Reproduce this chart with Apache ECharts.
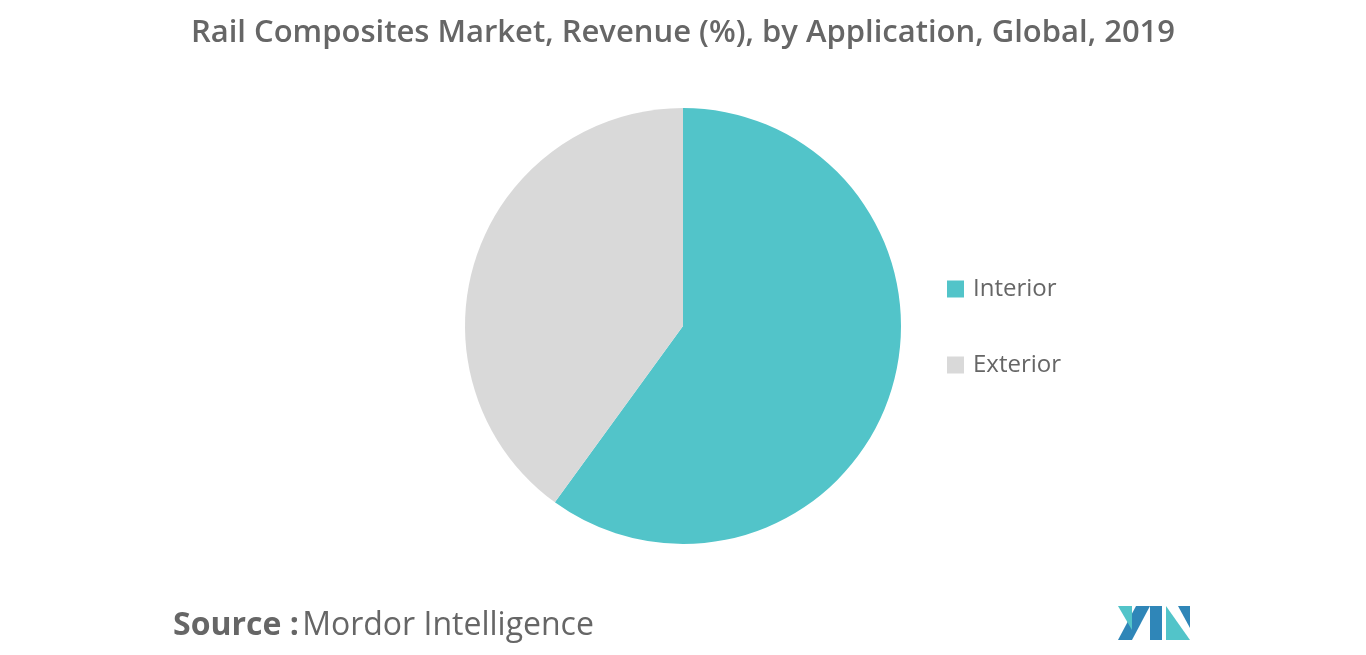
<!DOCTYPE html>
<html><head><meta charset="utf-8">
<script src="https://cdn.jsdelivr.net/npm/echarts@6/dist/echarts.min.js"></script>
<style>html,body{margin:0;padding:0;background:#fff}#c{width:1366px;height:655px}</style>
</head><body><div id="c"></div>
<script>
const categories = ["Interior", "Exterior"];
const values = [60, 40];
const colors = ["#52c4c9", "#d9d9d9"];
const chart = echarts.init(document.getElementById('c'));
chart.setOption({
  animation: false,
  title: {
    text: "Rail Composites Market, Revenue (%), by Application, Global, 2019",
    left: 'center', top: 13,
    textStyle: {fontFamily: 'Open Sans', fontWeight: 600, fontSize: 31, color: '#666'}
  },
  legend: {
    orient: 'vertical', left: 942, top: 272, itemGap: 52,
    icon: 'rect', itemWidth: 17, itemHeight: 17,
    textStyle: {fontFamily: 'Open Sans', fontSize: 24, color: '#666', padding: [0,0,0,4]},
    data: categories
  },
  series: [{
    type: 'pie', center: [683, 326], radius: [0, 218], startAngle: 90, clockwise: true,
    label: {show: false}, labelLine: {show: false},
    emphasis: {disabled: true},
    data: categories.map((c, i) => ({name: c, value: values[i], itemStyle: {color: colors[i]}}))
  }],
  graphic: [
    {type: 'text', left: 173, top: 610, style: {
      rich: {b: {fontFamily: 'Open Sans', fontWeight: 'bold', fontSize: 32, fill: '#666'},
             n: {fontFamily: 'Open Sans', fontSize: 32, fill: '#666'}},
      text: '{b|Source :} {n|Mordor Intelligence}'}},
    {type: 'polygon', shape: {points: [[1118,640],[1136,606],[1150,606],[1132,640]]}, style: {fill: '#2f86b8'}},
    {type: 'polygon', shape: {points: [[1118,606],[1132,606],[1132,630]]}, style: {fill: '#52c4c9'}},
    {type: 'polygon', shape: {points: [[1150,606],[1162,606],[1162,640],[1150,640]]}, style: {fill: '#2f86b8'}},
    {type: 'polygon', shape: {points: [[1166,606],[1190,640],[1166,640]]}, style: {fill: '#52c4c9'}},
    {type: 'polygon', shape: {points: [[1178,606],[1190,606],[1190,628]]}, style: {fill: '#2f86b8'}}
  ]
});
</script></body></html>
